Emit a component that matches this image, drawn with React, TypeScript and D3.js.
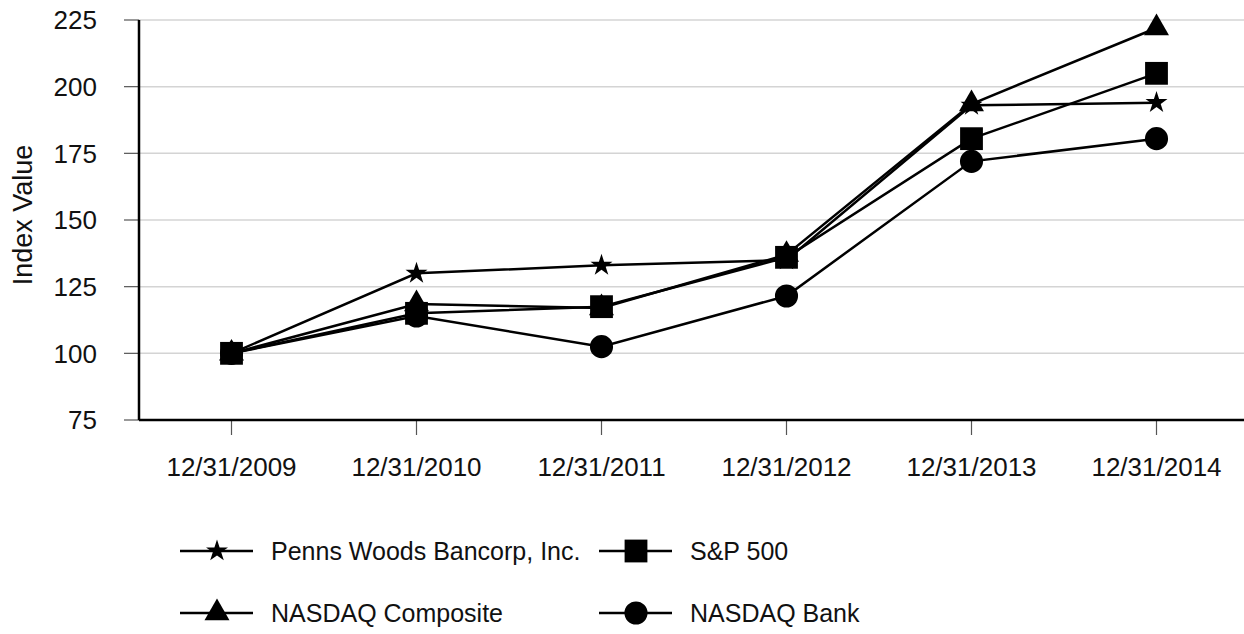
import React from 'react';
import * as d3 from 'd3';

const WIDTH = 1244;
const HEIGHT = 634;

const dates = ['12/31/2009', '12/31/2010', '12/31/2011', '12/31/2012', '12/31/2013', '12/31/2014'];
const yTicks = [75, 100, 125, 150, 175, 200, 225];

const pennsWoods = [100, 130, 133, 135, 193, 194];
const sp500 = [100, 115, 117.5, 136, 180.5, 205];
const nasdaqComposite = [100, 118.5, 117, 137, 193.5, 222];
const nasdaqBank = [100, 114, 102.5, 121.5, 172, 180.5];

const seriesNames = ['Penns Woods Bancorp, Inc.', 'S&P 500', 'NASDAQ Composite', 'NASDAQ Bank'];

const margin = { l: 139, t: 20, r: -5, b: 214 };
const font = 'Liberation Sans, Arial, sans-serif';

type Series = { name: string; values: number[]; symbol: d3.SymbolType; size: number };

const series: Series[] = [
  { name: seriesNames[0], values: pennsWoods, symbol: d3.symbolStar, size: 150 },
  { name: seriesNames[1], values: sp500, symbol: d3.symbolSquare, size: 520 },
  { name: seriesNames[2], values: nasdaqComposite, symbol: d3.symbolTriangle, size: 270 },
  { name: seriesNames[3], values: nasdaqBank, symbol: d3.symbolCircle, size: 420 },
];

// markers drawn in this order so the squares sit on top, as in the original
const markerOrder = [0, 2, 3, 1];

const App = () => {
  const w = WIDTH - margin.l - margin.r;
  const h = HEIGHT - margin.t - margin.b;

  const x = d3.scaleBand<string>().domain(dates).range([0, w]);
  const y = d3.scaleLinear().domain([75, 225]).range([h, 0]);
  const cx = (d: string) => (x(d) as number) + x.bandwidth() / 2;

  const line = d3
    .line<number>()
    .x((_, i) => cx(dates[i]))
    .y((d) => y(d));

  // legend layout: 2 columns x 2 rows
  const legendPos = [
    { x: 180, y: 551 },
    { x: 599, y: 551 },
    { x: 180, y: 613 },
    { x: 599, y: 613 },
  ];

  return (
    <div style={{ position: 'absolute', left: 0, top: 0 }}>
      <svg width={WIDTH} height={HEIGHT} style={{ display: 'block', background: '#fff' }}>
        <g transform={`translate(${margin.l}, ${margin.t})`}>
          {yTicks.map((t) => (
            <g key={t}>
              {t !== 75 && (
                <line x1={0} x2={w} y1={y(t)} y2={y(t)} stroke="#d4d4d4" strokeWidth={1.5} />
              )}
              <line x1={-15} x2={0} y1={y(t)} y2={y(t)} stroke="#555" strokeWidth={1.2} />
              <text
                x={-42}
                y={y(t)}
                dy="0.36em"
                textAnchor="end"
                fontFamily={font}
                fontSize={26}
                fill="#111"
              >
                {t}
              </text>
            </g>
          ))}
          {dates.map((d) => (
            <g key={d}>
              <line x1={cx(d)} x2={cx(d)} y1={h} y2={h + 15} stroke="#555" strokeWidth={1.2} />
              <text
                x={cx(d)}
                y={h + 47}
                dy="0.36em"
                textAnchor="middle"
                fontFamily={font}
                fontSize={26}
                fill="#111"
              >
                {d}
              </text>
            </g>
          ))}
          <line x1={0} x2={0} y1={0} y2={h} stroke="#000" strokeWidth={2.5} />
          <line x1={0} x2={w} y1={h} y2={h} stroke="#000" strokeWidth={2.5} />
          <text
            transform={`translate(${22 - margin.l}, ${215 - margin.t}) rotate(-90)`}
            dy="0.36em"
            textAnchor="middle"
            fontFamily={font}
            fontSize={27}
            fill="#111"
          >
            Index Value
          </text>

          {series.map((s) => (
            <path
              key={`l-${s.name}`}
              d={line(s.values) || ''}
              fill="none"
              stroke="#000"
              strokeWidth={2.5}
            />
          ))}
          {markerOrder.map((k) => {
            const s = series[k];
            return (
              <g key={`m-${s.name}`}>
                {s.values.map((v, i) => (
                  <path
                    key={i}
                    transform={`translate(${cx(dates[i])}, ${y(v)})`}
                    d={d3.symbol().type(s.symbol).size(s.size)() || ''}
                    fill="#000"
                  />
                ))}
              </g>
            );
          })}
        </g>

        {series.map((s, i) => {
          const p = legendPos[i];
          return (
            <g key={`lg-${s.name}`} transform={`translate(${p.x}, ${p.y})`}>
              <line x1={0} x2={73} y1={0} y2={0} stroke="#000" strokeWidth={2.5} />
              <path
                transform="translate(37, 0)"
                d={d3.symbol().type(s.symbol).size(s.size)() || ''}
                fill="#000"
              />
              <text x={91} dy="0.36em" fontFamily={font} fontSize={25} fill="#111">
                {s.name}
              </text>
            </g>
          );
        })}
      </svg>
    </div>
  );
};

export default App;
